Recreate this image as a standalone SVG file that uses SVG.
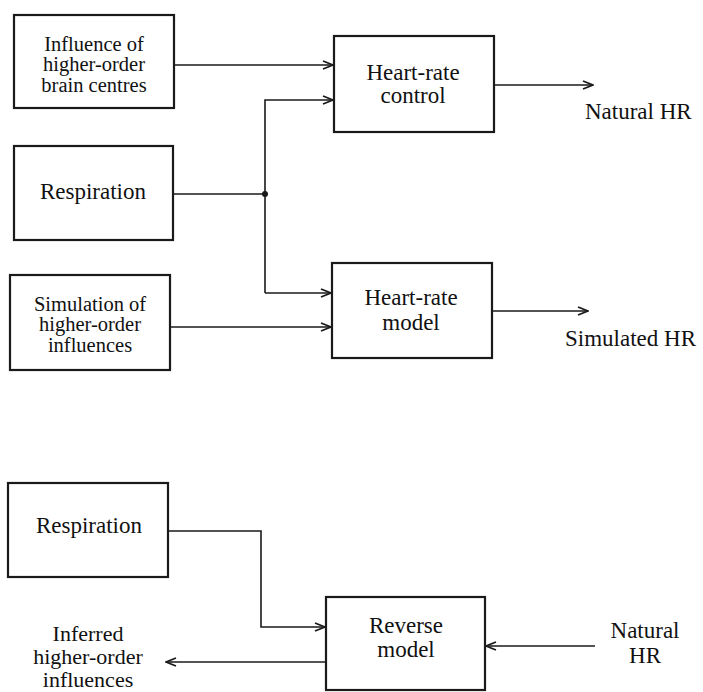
<svg xmlns="http://www.w3.org/2000/svg" width="703" height="692" viewBox="0 0 703 692">
  <style>
    .box { fill: #ffffff; stroke: #1a1a1a; stroke-width: 2.2; }
    .wire { fill: none; stroke: #1a1a1a; stroke-width: 1.6; }
    text { font-family: "Liberation Serif", "Times New Roman", serif; fill: #111111; }
    .lbl { text-anchor: middle; }
    .big { font-size: 23px; }
    .mid { font-size: 22px; }
    .small { font-size: 20.5px; }
    .free { font-size: 23px; }
  </style>
  <defs>
    <marker id="arrow" viewBox="0 0 12 10" refX="11" refY="5" markerWidth="12" markerHeight="10" markerUnits="userSpaceOnUse" orient="auto">
      <path d="M1,1 L11,5 L1,9" fill="none" stroke="#1a1a1a" stroke-width="1.8"/>
    </marker>
  </defs>

  <!-- Upper diagram: natural heart-rate control and its model -->
  <g id="influence">
    <rect class="box" x="14" y="15" width="160" height="93"/>
    <text class="lbl small" x="94" y="51">Influence of</text>
    <text class="lbl small" x="94" y="71">higher-order</text>
    <text class="lbl small" x="94" y="92">brain centres</text>
  </g>
  <g id="respiration-top">
    <rect class="box" x="14" y="146" width="159" height="94"/>
    <text class="lbl big" x="93" y="199">Respiration</text>
  </g>
  <g id="simulation">
    <rect class="box" x="10" y="275" width="160" height="95"/>
    <text class="lbl small" x="90" y="311">Simulation of</text>
    <text class="lbl small" x="90" y="331">higher-order</text>
    <text class="lbl small" x="90" y="352">influences</text>
  </g>
  <g id="hr-control">
    <rect class="box" x="334" y="36" width="160" height="96"/>
    <text class="lbl big" x="413" y="80">Heart-rate</text>
    <text class="lbl big" x="413" y="103">control</text>
  </g>
  <g id="hr-model">
    <rect class="box" x="332" y="263" width="160" height="95"/>
    <text class="lbl big" x="411" y="305">Heart-rate</text>
    <text class="lbl big" x="411" y="330">model</text>
  </g>
  <g id="natural-hr-out">
    <text class="free" x="585" y="119">Natural HR</text>
  </g>
  <g id="simulated-hr-out">
    <text class="free" x="565" y="346">Simulated HR</text>
  </g>

  <!-- Lower diagram: reverse model -->
  <g id="respiration-bottom">
    <rect class="box" x="8" y="483" width="160" height="94"/>
    <text class="lbl big" x="89" y="533">Respiration</text>
  </g>
  <g id="reverse-model">
    <rect class="box" x="326" y="597" width="159" height="93"/>
    <text class="lbl big" x="406" y="633">Reverse</text>
    <text class="lbl big" x="406" y="657">model</text>
  </g>
  <g id="inferred-out">
    <text class="lbl mid" x="88" y="641">Inferred</text>
    <text class="lbl mid" x="88" y="664">higher-order</text>
    <text class="lbl mid" x="88" y="687">influences</text>
  </g>
  <g id="natural-hr-in">
    <text class="lbl big" x="645" y="638">Natural</text>
    <text class="lbl big" x="645" y="663">HR</text>
  </g>

  <g id="connectors">
    <line class="wire" x1="174" y1="65" x2="333" y2="65" marker-end="url(#arrow)"/>
    <line class="wire" x1="173" y1="194" x2="265" y2="194"/>
    <polyline class="wire" points="265,293 265,100 333,100" marker-end="url(#arrow)"/>
    <line class="wire" x1="265" y1="293" x2="331" y2="293" marker-end="url(#arrow)"/>
    <circle cx="265" cy="194" r="3" fill="#1a1a1a"/>
    <line class="wire" x1="170" y1="327" x2="331" y2="327" marker-end="url(#arrow)"/>
    <line class="wire" x1="494" y1="85" x2="593" y2="85" marker-end="url(#arrow)"/>
    <line class="wire" x1="492" y1="311" x2="588" y2="311" marker-end="url(#arrow)"/>
    <polyline class="wire" points="168,531 261,531 261,627 325,627" marker-end="url(#arrow)"/>
    <line class="wire" x1="326" y1="662" x2="166" y2="662" marker-end="url(#arrow)"/>
    <line class="wire" x1="595" y1="646" x2="486" y2="646" marker-end="url(#arrow)"/>
  </g>
</svg>
